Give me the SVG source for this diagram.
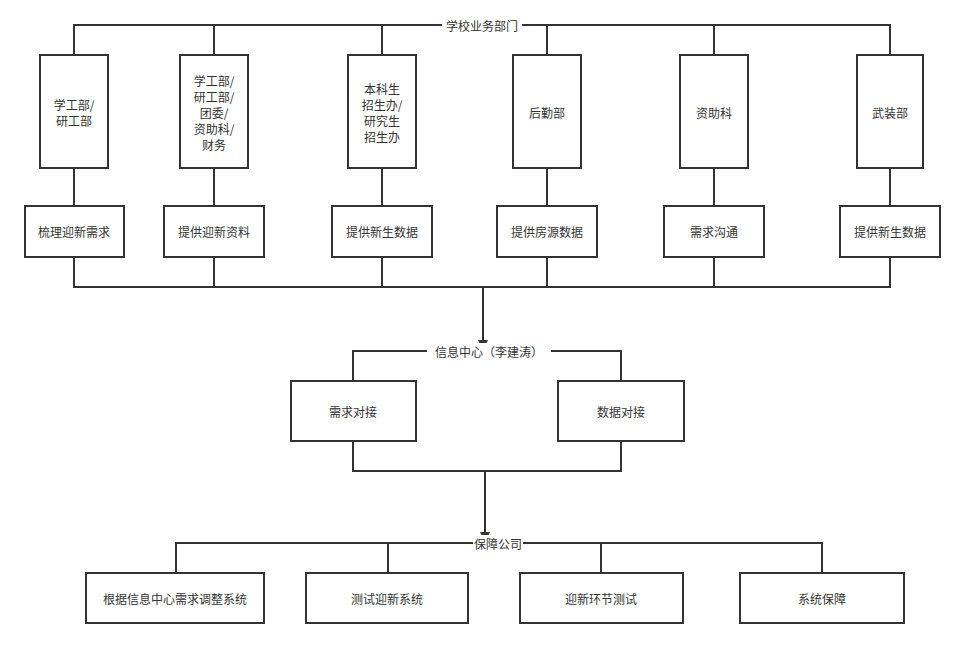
<svg xmlns="http://www.w3.org/2000/svg" width="964" height="648" viewBox="0 0 964 648">
<defs>
<style>
.b{fill:#fff;stroke:#333;stroke-width:2}
.l{fill:none;stroke:#333;stroke-width:2}
text{font-family:"Noto Sans CJK SC","Liberation Sans",sans-serif;font-size:12px;fill:#333;text-anchor:middle;dominant-baseline:central}
.bg{fill:#fff;stroke:none}
</style>
<marker id="a" viewBox="0 0 10 10" refX="9" refY="5" markerWidth="5" markerHeight="5" orient="auto"><path d="M0,0L10,5L0,10z" fill="#333"/></marker>
</defs>
<g id="connectors">
<path class="l" d="M74,55V25H890V55M214,25V55M382,25V55M547,25V55M714,25V55"/>
<path class="l" d="M74,168V206M214,168V206M382,168V206M547,168V206M714,168V206M890,168V206"/>
<path class="l" d="M74,257V287H890V257M214,257V287M382,257V287M547,257V287M714,257V287"/>
<path class="l" d="M483,287V349" marker-end="url(#a)"/>
<path class="l" d="M353,381V351H621V381"/>
<path class="l" d="M353,441V471H621V441M485,471V541" marker-end="url(#a)"/>
<path class="l" d="M176,573V543H822V573M388,543V573M601,543V573"/>
<rect class="bg" x="442" y="17" width="80" height="16"/>
<text x="482" y="25">学校业务部门</text>
<rect class="bg" x="427" y="343" width="124" height="16"/>
<text x="489" y="351">信息中心（李建涛）</text>
<rect class="bg" x="473" y="535" width="50" height="16"/>
<text x="498" y="543">保障公司</text>
</g>
<g id="n1"><rect class="b" x="40" y="55" width="68" height="113"/><text x="74" y="104">学工部/</text><text x="74" y="120">研工部</text></g>
<g id="n2"><rect class="b" x="180" y="55" width="68" height="113"/><text x="214" y="80">学工部/</text><text x="214" y="96">研工部/</text><text x="214" y="112">团委/</text><text x="214" y="128">资助科/</text><text x="214" y="144">财务</text></g>
<g id="n3"><rect class="b" x="348" y="55" width="68" height="113"/><text x="382" y="88">本科生</text><text x="382" y="104">招生办/</text><text x="382" y="120">研究生</text><text x="382" y="136">招生办</text></g>
<g id="n4"><rect class="b" x="513" y="55" width="68" height="113"/><text x="547" y="112">后勤部</text></g>
<g id="n5"><rect class="b" x="680" y="55" width="68" height="113"/><text x="714" y="112">资助科</text></g>
<g id="n6"><rect class="b" x="857" y="55" width="66" height="113"/><text x="890" y="112">武装部</text></g>
<g id="m1"><rect class="b" x="25" y="206" width="99" height="51"/><text x="74" y="231">梳理迎新需求</text></g>
<g id="m2"><rect class="b" x="164" y="206" width="100" height="51"/><text x="214" y="231">提供迎新资料</text></g>
<g id="m3"><rect class="b" x="332" y="206" width="100" height="51"/><text x="382" y="231">提供新生数据</text></g>
<g id="m4"><rect class="b" x="497" y="206" width="100" height="51"/><text x="547" y="231">提供房源数据</text></g>
<g id="m5"><rect class="b" x="664" y="206" width="100" height="51"/><text x="714" y="231">需求沟通</text></g>
<g id="m6"><rect class="b" x="840" y="206" width="100" height="51"/><text x="890" y="231">提供新生数据</text></g>
<g id="c1"><rect class="b" x="291" y="381" width="125" height="60"/><text x="353" y="411">需求对接</text></g>
<g id="c2"><rect class="b" x="558" y="381" width="126" height="60"/><text x="621" y="411">数据对接</text></g>
<g id="s1"><rect class="b" x="86" y="573" width="178" height="50"/><text x="175" y="598">根据信息中心需求调整系统</text></g>
<g id="s2"><rect class="b" x="306" y="573" width="162" height="50"/><text x="387" y="598">测试迎新系统</text></g>
<g id="s3"><rect class="b" x="520" y="573" width="163" height="50"/><text x="601" y="598">迎新环节测试</text></g>
<g id="s4"><rect class="b" x="740" y="573" width="164" height="50"/><text x="822" y="598">系统保障</text></g>
</svg>
